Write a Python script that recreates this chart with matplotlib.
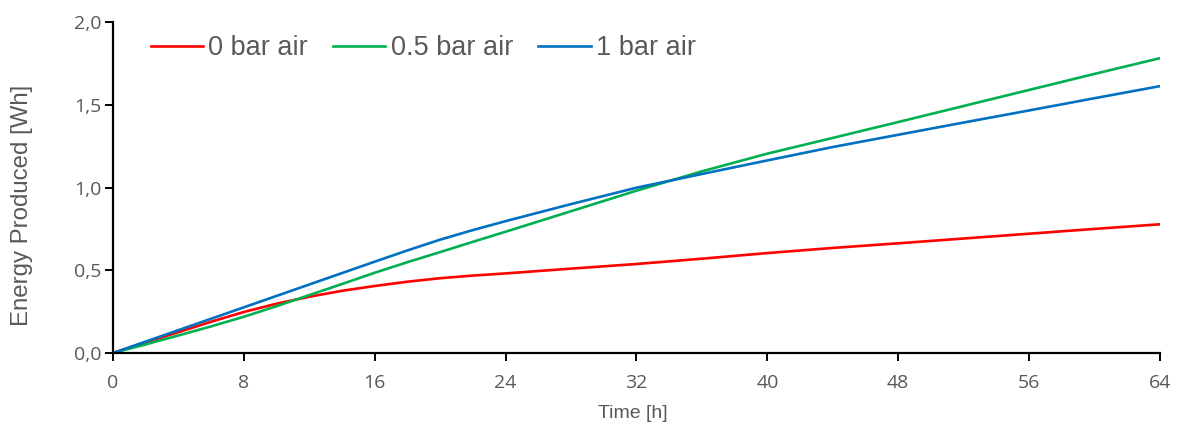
import matplotlib
matplotlib.use("Agg")
from matplotlib import pyplot as plt
from matplotlib.ticker import FuncFormatter

# time in hours
time_h = [0, 2, 4, 6, 8, 10, 12, 14, 16, 18, 20, 22, 24, 28, 32, 36, 40, 44, 48, 52, 56, 60, 64]

# energy produced [Wh]
bar_0 = [0, 0.064, 0.126, 0.189, 0.248, 0.298, 0.34, 0.376, 0.405, 0.431, 0.452, 0.468, 0.481,
         0.51, 0.538, 0.57, 0.604, 0.635, 0.663, 0.692, 0.721, 0.75, 0.778]
bar_05 = [0, 0.052, 0.106, 0.161, 0.219, 0.283, 0.35, 0.417, 0.485, 0.549, 0.61, 0.672, 0.733,
          0.857, 0.981, 1.098, 1.205, 1.30, 1.396, 1.493, 1.59, 1.687, 1.782]
bar_1 = [0, 0.069, 0.138, 0.207, 0.276, 0.345, 0.414, 0.483, 0.552, 0.62, 0.685, 0.743, 0.797,
         0.90, 0.999, 1.082, 1.164, 1.245, 1.319, 1.393, 1.466, 1.54, 1.613]

labels = ["0 bar air", "0.5 bar air", "1 bar air"]
colors = ["#FF0000", "#00B050", "#0070C0"]

text_grey = "#595959"

fig = plt.figure(figsize=(11.78, 4.25), dpi=100)
ax = fig.add_axes([0.0959, 0.1694, 0.8888, 0.7786])

for y, lab, c in zip([bar_0, bar_05, bar_1], labels, colors):
    ax.plot(time_h, y, color=c, lw=1.9, label=lab)

ax.set_xlim(0, 64)
ax.set_ylim(0, 2.0)
ax.set_xticks(range(0, 65, 8))
ax.set_yticks([0, 0.5, 1.0, 1.5, 2.0])
ax.yaxis.set_major_formatter(FuncFormatter(lambda v, p: f"{v:.1f}".replace(".", ",")))

for s in ["top", "right"]:
    ax.spines[s].set_visible(False)
for s in ["left", "bottom"]:
    ax.spines[s].set_linewidth(1.6)
    ax.spines[s].set_color("black")

ax.tick_params(axis="both", direction="out", length=6, width=1.4, colors="black",
               labelcolor=text_grey, labelsize=14)
ax.tick_params(axis="x", pad=9)
ax.tick_params(axis="y", pad=2)
for t in ax.get_xticklabels() + ax.get_yticklabels():
    t.set_family("Open Sans")

# axis titles placed in figure coordinates
fig.text(22 / 1178, 1 - 205 / 425, "Energy Produced [Wh]", rotation=90, ha="center", va="center",
         fontsize=17.3, color=text_grey, family="Liberation Sans")
fig.text(633 / 1178, 1 - 414 / 425, "Time [h]", ha="center", va="center",
         fontsize=14, color=text_grey, family="Liberation Sans")

leg = ax.legend(loc="center left", bbox_to_anchor=(137 / 1178, 1 - 48 / 425),
                bbox_transform=fig.transFigure, ncol=3, frameon=False, borderpad=0,
                handlelength=1.93, handletextpad=0.2, columnspacing=0.93,
                prop={"family": "Liberation Sans", "size": 19.5})
for t in leg.get_texts():
    t.set_color(text_grey)

fig.savefig("out.png", dpi=100)
